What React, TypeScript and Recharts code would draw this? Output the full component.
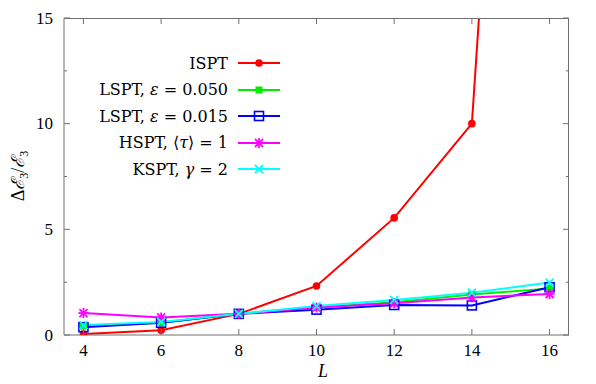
import React from 'react';
import { LineChart, Line, XAxis, YAxis, Legend } from 'recharts';

// system sizes L and the relative gap error for each method
const sizes = [4, 6, 8, 10, 12, 14, 16];
const ispt = [0.05, 0.22, 1.0, 2.32, 5.54, 10.0, 65];
const lsptA = [0.42, 0.58, 1.0, 1.3, 1.55, 1.92, 2.2];
const lsptB = [0.37, 0.58, 1.0, 1.2, 1.42, 1.4, 2.26];
const hspt = [1.04, 0.83, 1.0, 1.3, 1.5, 1.78, 1.94];
const kspt = [0.47, 0.62, 1.0, 1.37, 1.66, 2.0, 2.48];

const xTicks = [4, 6, 8, 10, 12, 14, 16];
const yTicks = [0, 2.5, 5, 7.5, 10, 12.5, 15];
const xDomain = [3.5, 16.5];
const yDomain = [0, 15];

const TICK_FONT = '"Liberation Serif", "DejaVu Serif", serif';
const LEGEND_FONT = '"DejaVu Serif", serif';
const FRAME = '#707070';

const W = 596;
const H = 384;
const M = { top: 18, right: 27, bottom: 0, left: 0 };
const Y_AXIS_W = 64;
const X_AXIS_H = 49;

const data = sizes.map((L, i) => ({
  L,
  ispt: ispt[i],
  lsptA: lsptA[i],
  lsptB: lsptB[i],
  hspt: hspt[i],
  kspt: kspt[i],
}));

type Mark = 'circle' | 'square' | 'openSquare' | 'star' | 'cross';

const series: { key: string; color: string; mark: Mark; label: React.ReactNode }[] = [
  { key: 'ispt', color: '#ff0000', mark: 'circle', label: 'ISPT' },
  { key: 'lsptA', color: '#00ee00', mark: 'square', label: <>LSPT, <i>ε</i> = 0.050</> },
  { key: 'lsptB', color: '#0000ff', mark: 'openSquare', label: <>LSPT, <i>ε</i> = 0.015</> },
  { key: 'hspt', color: '#ff00ff', mark: 'star', label: <>HSPT, ⟨<i>τ</i>⟩ = 1</> },
  { key: 'kspt', color: '#00ffff', mark: 'cross', label: <>KSPT, <i>γ</i> = 2</> },
];

const Marker = ({ cx, cy, mark, color }: { cx: number; cy: number; mark: Mark; color: string }) => {
  if (mark === 'circle') return <circle cx={cx} cy={cy} r={3.8} fill={color} />;
  if (mark === 'square') return <rect x={cx - 3.5} y={cy - 3.5} width={7} height={7} fill={color} />;
  if (mark === 'openSquare')
    return <rect x={cx - 4.5} y={cy - 4.5} width={9} height={9} fill="none" stroke={color} strokeWidth={1.6} />;
  const s = 4;
  const x = (
    <>
      <line x1={cx - s} y1={cy - s} x2={cx + s} y2={cy + s} stroke={color} strokeWidth={1.8} />
      <line x1={cx - s} y1={cy + s} x2={cx + s} y2={cy - s} stroke={color} strokeWidth={1.8} />
    </>
  );
  if (mark === 'cross') return <g>{x}</g>;
  return (
    <g>
      {x}
      <line x1={cx - s - 1} y1={cy} x2={cx + s + 1} y2={cy} stroke={color} strokeWidth={1.8} />
      <line x1={cx} y1={cy - s - 1} x2={cx} y2={cy + s + 1} stroke={color} strokeWidth={1.8} />
    </g>
  );
};

const GAP = 9;

const LeftTick = (p: any) => {
  const v = p.payload.value;
  const major = v % 5 === 0;
  const ax = p.x + GAP;
  return (
    <g>
      <line x1={ax} x2={ax + (major ? 6 : 3)} y1={p.y} y2={p.y} stroke={FRAME} />
      {major && (
        <text x={p.x - 2} y={p.y} dy="0.34em" textAnchor="end" fontSize={17} fontFamily={TICK_FONT} fill="#000">
          {v}
        </text>
      )}
    </g>
  );
};

const BottomTick = (p: any) => {
  const ay = p.y - GAP;
  return (
    <g>
      <line x1={p.x} x2={p.x} y1={ay} y2={ay - 6} stroke={FRAME} />
      <text x={p.x} y={p.y} dy={12} textAnchor="middle" fontSize={17} fontFamily={TICK_FONT} fill="#000">
        {p.payload.value}
      </text>
    </g>
  );
};

// gnuplot-style closed frame with mirrored ticks on the top and right edges
const Frame = () => {
  const left = M.left + Y_AXIS_W;
  const right = W - M.right;
  const top = M.top;
  const bottom = H - M.bottom - X_AXIS_H;
  const sx = (v: number) => left + ((v - xDomain[0]) / (xDomain[1] - xDomain[0])) * (right - left);
  const sy = (v: number) => bottom - ((v - yDomain[0]) / (yDomain[1] - yDomain[0])) * (bottom - top);
  return (
    <svg width={W} height={H} style={{ position: 'absolute', left: 0, top: 0, pointerEvents: 'none' }}>
      <line x1={left} x2={right} y1={top + 0.5} y2={top + 0.5} stroke={FRAME} />
      <line x1={right - 0.5} x2={right - 0.5} y1={top} y2={bottom} stroke={FRAME} />
      {xTicks.map((t) => (
        <line key={`tx${t}`} x1={sx(t)} x2={sx(t)} y1={top} y2={top + 6} stroke={FRAME} />
      ))}
      {yTicks.map((t) => (
        <line
          key={`ty${t}`}
          x1={right}
          x2={right - (t % 5 === 0 ? 6 : 3)}
          y1={sy(t)}
          y2={sy(t)}
          stroke={FRAME}
        />
      ))}
    </svg>
  );
};

const LegendBox = () => (
  <div style={{ fontFamily: LEGEND_FONT, fontSize: 16, color: '#000' }}>
    {series.map((s) => (
      <div
        key={s.key}
        style={{ height: 26.5, display: 'flex', alignItems: 'center', justifyContent: 'flex-end' }}
      >
        <span style={{ whiteSpace: 'nowrap' }}>{s.label}</span>
        <svg width={42} height={14} style={{ marginLeft: 10 }}>
          <line x1={0} x2={42} y1={7} y2={7} stroke={s.color} strokeWidth={2} />
          <Marker cx={21} cy={7} mark={s.mark} color={s.color} />
        </svg>
      </div>
    ))}
  </div>
);

export default function App() {
  return (
    <div style={{ position: 'absolute', left: 0, top: 0, width: W, height: H, background: '#fff' }}>
      <LineChart width={W} height={H} data={data} margin={M}>
        <XAxis
          dataKey="L"
          type="number"
          domain={xDomain}
          ticks={xTicks}
          interval={0}
          height={X_AXIS_H}
          tickSize={0}
          tickMargin={GAP}
          tickLine={false}
          tick={BottomTick}
          stroke={FRAME}
          label={{
            content: () => (
              <text x={323} y={377} textAnchor="middle" fontSize={18} fontFamily={TICK_FONT} fontStyle="italic">
                L
              </text>
            ),
          }}
        />
        <YAxis
          type="number"
          domain={yDomain}
          allowDataOverflow
          ticks={yTicks}
          interval={0}
          width={Y_AXIS_W}
          tickSize={0}
          tickMargin={GAP}
          tickLine={false}
          tick={LeftTick}
          stroke={FRAME}
          label={{
            content: () => (
              <text
                x={24}
                y={176}
                transform="rotate(-90 24 176)"
                textAnchor="middle"
                fontSize={18}
                fontFamily={TICK_FONT}
              >
                Δ<tspan fontStyle="italic">ℰ</tspan>
                <tspan fontSize={12} dy={4}>3</tspan>
                <tspan dy={-4}>/</tspan>
                <tspan fontStyle="italic">ℰ</tspan>
                <tspan fontSize={12} dy={4}>3</tspan>
              </text>
            ),
          }}
        />
        <Legend
          layout="vertical"
          align="center"
          verticalAlign="middle"
          content={LegendBox}
          wrapperStyle={{ left: 40, top: 50, width: 240 }}
        />
        {series.map((s) => (
          <Line
            key={s.key}
            dataKey={s.key}
            stroke={s.color}
            strokeWidth={2}
            isAnimationActive={false}
            dot={(p: any) => <Marker key={`${s.key}-${p.index}`} cx={p.cx} cy={p.cy} mark={s.mark} color={s.color} />}
          />
        ))}
      </LineChart>
      <Frame />
    </div>
  );
}
